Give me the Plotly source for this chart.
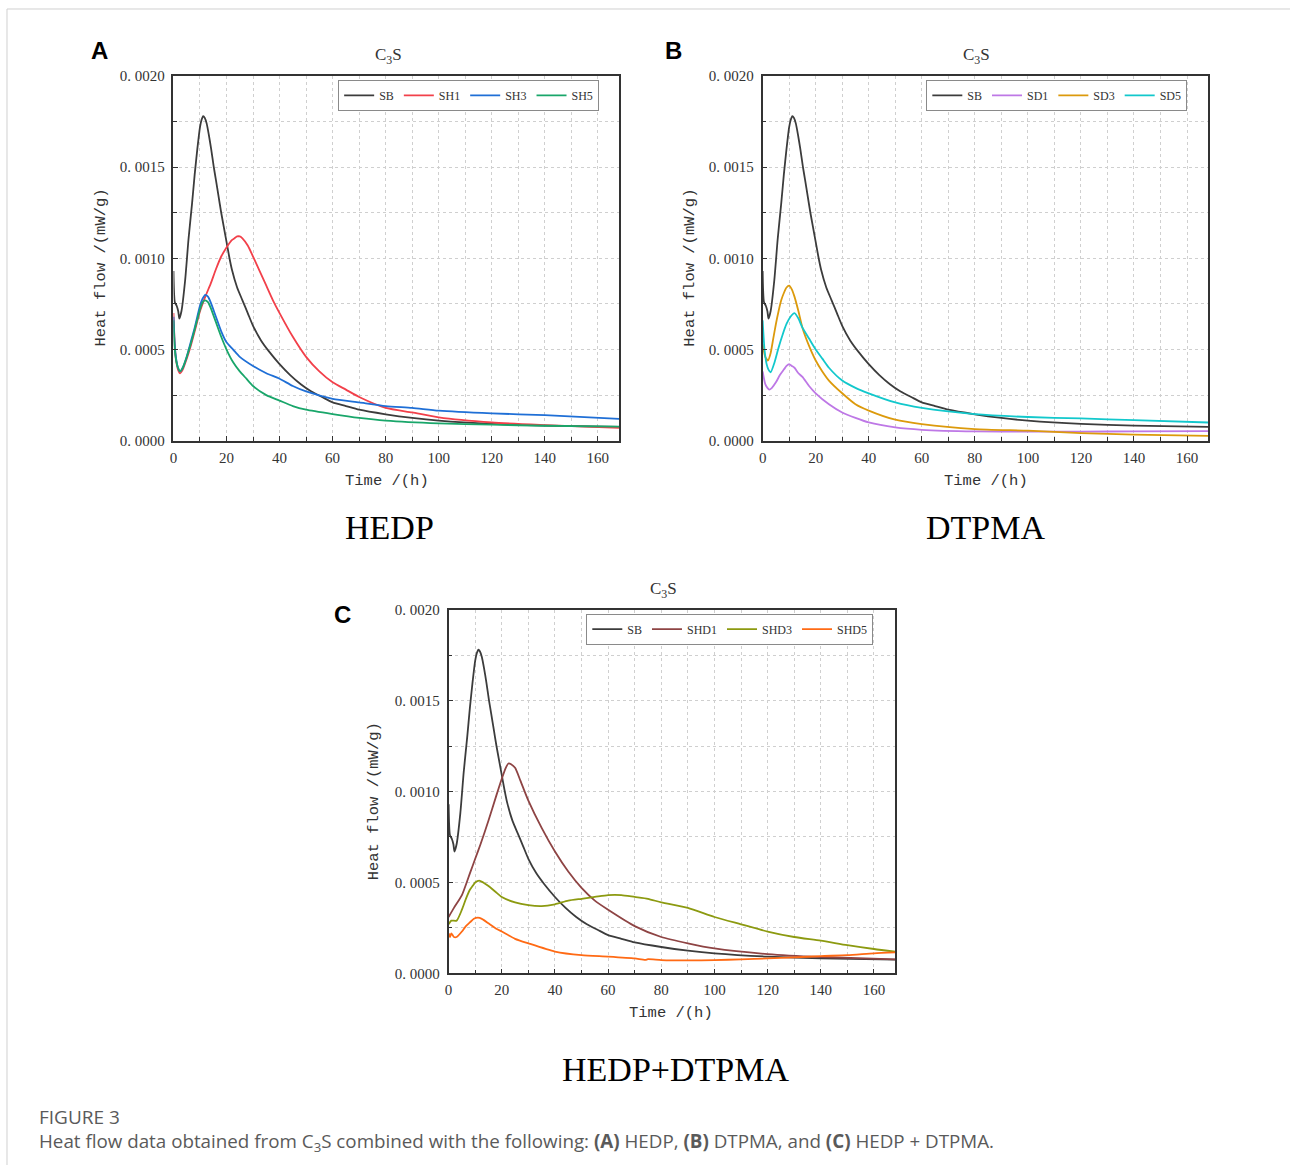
import plotly.graph_objects as go

W, H = 1290, 1173
# Measured mapping between figure pixels and the photographed page:
# page_y ~= 7 + 0.987 * fig_y, page_x ~= fig_x + 1.  Positions below are page pixels.
Y0, YS, X0 = 7.0, 0.987, 1.0

# ---------------- data ----------------
sb_t = [0, 0.5, 1.2, 1.8, 2.2, 3, 4.4, 5.7, 7, 8, 9, 10, 10.6, 11.2, 11.8, 12.5, 13.3, 14.2, 15.2, 16, 17, 18,
        19, 20, 21, 22, 24, 26, 28, 30, 33, 36, 40, 44, 48, 52, 56, 60, 65, 70, 80, 90, 100, 120, 140, 168]
sb_v = [0.00093, 0.00076, 0.00074, 0.00071, 0.00067, 0.00071, 0.00088, 0.00111, 0.00130, 0.00146, 0.00160,
        0.00172, 0.00176, 0.00178, 0.00177, 0.00174, 0.00168, 0.00160, 0.00150, 0.00143, 0.00134, 0.00125,
        0.00117, 0.00109, 0.00101, 0.00094, 0.00084, 0.00077, 0.00070, 0.00063, 0.00055, 0.00049, 0.00042,
        0.00036, 0.00031, 0.00027, 0.00024, 0.00021, 0.00019, 0.00017, 0.000145, 0.000125, 0.00011,
        0.000092, 0.000083, 0.000076]

# Panel A (HEDP)
sh1_t = [0, 0.5, 1, 1.7, 2.5, 3.5, 5, 6.5, 8, 10, 12, 14, 16, 18, 20, 22, 23, 24, 25, 26, 28, 30, 32.5, 35, 37.5,
         40, 45, 50, 55, 60, 65, 70, 80, 90, 100, 120, 140, 168]
sh1_v = [0.00070, 0.00052, 0.00044, 0.00039, 0.00037, 0.00039, 0.00045, 0.00052, 0.00060, 0.00071, 0.00079,
         0.00086, 0.00094, 0.00101, 0.00106, 0.00110, 0.00111, 0.00112, 0.00112, 0.00111, 0.00107, 0.00101,
         0.00093, 0.00085, 0.00077, 0.00070, 0.00057, 0.00046, 0.00038, 0.00032, 0.00028, 0.00024, 0.00018,
         0.000155, 0.000128, 0.000100, 0.000086, 0.000070]
sh3_t = [0, 0.5, 1, 1.7, 2.5, 3.5, 5, 6.5, 8, 10, 11, 12, 13, 14, 16, 18, 20, 22.5, 25, 30, 35, 40, 45, 50, 60,
         70, 80, 90, 100, 120, 140, 168]
sh3_v = [0.00068, 0.00052, 0.00045, 0.00040, 0.00038, 0.00040, 0.00046, 0.00054, 0.00062, 0.00074, 0.00078,
         0.00080, 0.00079, 0.00076, 0.00068, 0.00060, 0.00054, 0.00050, 0.00046, 0.00041, 0.00037, 0.00034,
         0.00030, 0.00027, 0.00023, 0.00021, 0.00019, 0.00018, 0.000165, 0.00015, 0.00014, 0.00012]
sh5_t = [0, 0.5, 1, 1.7, 2.5, 3.5, 5, 6.5, 8, 10, 11, 12, 13, 14, 16, 18, 20, 22.5, 25, 27.5, 30, 35, 40, 45,
         50, 60, 70, 80, 100, 120, 140, 168]
sh5_v = [0.00066, 0.00050, 0.00044, 0.00040, 0.00038, 0.00040, 0.00046, 0.00053, 0.00061, 0.00072, 0.00076,
         0.00077, 0.00076, 0.00073, 0.00065, 0.00057, 0.00050, 0.00043, 0.00038, 0.00034, 0.00030, 0.00025,
         0.00022, 0.00019, 0.00017, 0.000146, 0.000125, 0.00011, 0.000095, 0.000088, 0.000082, 0.000077]

# Panel B (DTPMA)
sd1_t = [0, 1, 1.8, 2.5, 3.5, 5, 6.5, 8, 9, 10, 11, 12, 13.5, 15, 17.5, 20, 25, 30, 35, 40, 50, 60, 80, 100,
         120, 140, 168]
sd1_v = [0.00038, 0.00031, 0.00029, 0.00028, 0.00029, 0.00032, 0.00036, 0.00039, 0.00041, 0.00042, 0.00041,
         0.00040, 0.00037, 0.00035, 0.00030, 0.00026, 0.00020, 0.000155, 0.000125, 0.00010, 0.000073,
         0.00006, 0.000051, 0.00005, 0.00005, 0.000051, 0.000053]
sd3_t = [0, 1, 2, 3, 4, 5, 6, 7, 8, 9, 10, 11, 12, 13.5, 15, 17.5, 20, 22.5, 25, 30, 35, 40, 50, 60, 80, 100,
         120, 140, 168]
sd3_v = [0.00053, 0.00046, 0.00044, 0.00048, 0.00056, 0.00064, 0.00071, 0.00077, 0.00081, 0.00084, 0.00085,
         0.00083, 0.00079, 0.00071, 0.00062, 0.00052, 0.00044, 0.00038, 0.00033, 0.00026, 0.00020, 0.000165,
         0.000115, 0.000091, 0.000064, 0.000055, 0.000042, 0.000033, 0.000027]
sd5_t = [0, 0.7, 1.5, 2.2, 3, 4.5, 6, 7.5, 9, 10.5, 12, 13.5, 15, 17.5, 20, 22.5, 25, 30, 35, 40, 50, 60, 80,
         100, 120, 140, 168]
sd5_v = [0.00066, 0.00050, 0.00042, 0.00039, 0.000375, 0.00043, 0.00051, 0.00058, 0.00064, 0.00068, 0.00070,
         0.00067, 0.00062, 0.00056, 0.00050, 0.00045, 0.00040, 0.00033, 0.00029, 0.00026, 0.00021, 0.00018,
         0.000146, 0.00013, 0.000122, 0.000113, 0.00010]

# Panel C (HEDP+DTPMA)
shd1_t = [0, 2, 5, 8, 10, 12, 15, 18, 20, 21.5, 22.5, 23.5, 25, 27, 30, 35, 40, 45, 50, 55, 60, 70, 80, 90,
          100, 120, 140, 168]
shd1_v = [0.00031, 0.00036, 0.00043, 0.00055, 0.00063, 0.00071, 0.00084, 0.00098, 0.00107, 0.00113, 0.001154,
          0.00115, 0.00113, 0.00106, 0.00095, 0.00080, 0.00067, 0.00056, 0.00047, 0.00040, 0.00035, 0.00026,
          0.00020, 0.000165, 0.000137, 0.000106, 0.00009, 0.000077]
shd3_t = [0, 1, 3, 5, 6.5, 8, 9, 10, 11.5, 13, 15, 17.5, 20, 25, 30, 35, 40, 45, 50, 55, 60, 65, 70, 75, 80,
          90, 100, 110, 120, 130, 140, 150, 160, 168]
shd3_v = [0.00027, 0.00029, 0.00029, 0.00035, 0.00041, 0.00046, 0.00048, 0.00050, 0.00051, 0.00050, 0.00048,
          0.00045, 0.00042, 0.00039, 0.000375, 0.00037, 0.00038, 0.00040, 0.00041, 0.00042, 0.00043, 0.00043,
          0.00042, 0.00041, 0.00039, 0.00036, 0.00031, 0.00027, 0.00023, 0.00020, 0.00018, 0.000155,
          0.000134, 0.00012]
shd5_t = [0, 0.5, 1, 2, 3, 5, 6.5, 8, 9.5, 11, 12.5, 15, 17.5, 20, 25, 30, 40, 50, 60, 70, 74, 75, 80, 90,
          100, 110, 120, 130, 140, 150, 160, 168]
shd5_v = [0.00022, 0.00020, 0.00022, 0.00020, 0.00020, 0.00023, 0.00026, 0.00028, 0.00030, 0.000306, 0.00030,
          0.000275, 0.00025, 0.00023, 0.00019, 0.000165, 0.00012, 0.00010, 0.000092, 0.000082, 0.000074,
          0.000078, 0.000073, 0.000071, 0.000073, 0.000077, 0.000082, 0.000088, 0.000095, 0.00010,
          0.00011, 0.000115]

x_ticks = [0, 20, 40, 60, 80, 100, 120, 140, 160]
y_ticks = [0, 0.0005, 0.0010, 0.0015, 0.0020]
y_tick_text = ["0. 0000", "0. 0005", "0. 0010", "0. 0015", "0. 0020"]

panels = [
    dict(series=[("SB", sb_t, sb_v, "#3c3c3c"), ("SH1", sh1_t, sh1_v, "#f2404a"),
                 ("SH3", sh3_t, sh3_v, "#1f6fd6"), ("SH5", sh5_t, sh5_v, "#19a66a")],
         px=(171, 618), py=(75, 440), leg=(598, 79), title=(387, 55), ytitle=(98, 267), xtitle=(385, 480)),
    dict(series=[("SB", sb_t, sb_v, "#3c3c3c"), ("SD1", sd1_t, sd1_v, "#be78e6"),
                 ("SD3", sd3_t, sd3_v, "#dc9a0c"), ("SD5", sd5_t, sd5_v, "#12c8cc")],
         px=(762, 1209), py=(75, 440), leg=(1188, 79), title=(977, 55), ytitle=(689, 267), xtitle=(986, 480)),
    dict(series=[("SB", sb_t, sb_v, "#3c3c3c"), ("SHD1", shd1_t, shd1_v, "#8e4444"),
                 ("SHD3", shd3_t, shd3_v, "#8c9a10"), ("SHD5", shd5_t, shd5_v, "#ff6a14")],
         px=(447, 895), py=(609, 973), leg=(873, 613), title=(663, 589), ytitle=(373, 801), xtitle=(670, 1013)),
]

SERIF = "Liberation Serif"
MONO = "Liberation Mono"
AX = "#333333"
GRID = "#cfcfcf"


def fx(p):
    return (p - X0) / W


def fy(p):
    return 1 - ((p - Y0) / YS) / H


fig = go.Figure()
layout = dict(width=W, height=H, margin=dict(l=0, r=0, t=0, b=0),
              paper_bgcolor="white", plot_bgcolor="white", showlegend=True)
annotations = []

for i, p in enumerate(panels):
    k = "" if i == 0 else str(i + 1)
    legname = "legend" + k
    for name, t, v, col in p["series"]:
        fig.add_trace(go.Scatter(x=t, y=v, mode="lines", name=name,
                                 line=dict(color=col, width=1.8, shape="spline", smoothing=0.6),
                                 xaxis="x" + k, yaxis="y" + k, legend=legname))
    layout["xaxis" + k] = dict(
        domain=[fx(p["px"][0]), fx(p["px"][1])], anchor="y" + k, range=[0, 168],
        tickvals=x_ticks, ticks="inside", ticklen=5, tickwidth=1.3, tickcolor=AX,
        showline=True, linecolor=AX, linewidth=1.6, mirror=True,
        showgrid=True, gridcolor=GRID, griddash="dot", gridwidth=1, zeroline=False,
        minor=dict(dtick=10, tick0=0, ticks="inside", ticklen=4, tickcolor=AX,
                   showgrid=True, gridcolor=GRID, griddash="dot", gridwidth=1),
        tickfont=dict(family=SERIF, size=15, color=AX), ticklabelstandoff=2)
    layout["yaxis" + k] = dict(
        domain=[fy(p["py"][1]), fy(p["py"][0])], anchor="x" + k, range=[0, 0.002],
        tickvals=y_ticks, ticktext=y_tick_text, ticks="inside", ticklen=5, tickwidth=1.3, tickcolor=AX,
        showline=True, linecolor=AX, linewidth=1.6, mirror=True,
        showgrid=True, gridcolor=GRID, griddash="dot", gridwidth=1, zeroline=False,
        minor=dict(dtick=0.00025, tick0=0, ticks="inside", ticklen=4, tickcolor=AX,
                   showgrid=True, gridcolor=GRID, griddash="dot", gridwidth=1),
        tickfont=dict(family=SERIF, size=15, color=AX), ticklabelstandoff=4)
    layout[legname] = dict(
        x=fx(p["leg"][0]), y=fy(p["leg"][1]), xanchor="right", yanchor="top", orientation="h",
        bordercolor="#8a8a8a", borderwidth=1, bgcolor="white",
        font=dict(family=SERIF, size=12, color=AX), itemwidth=30, tracegroupgap=0)

    annotations.append(dict(x=fx(p["title"][0]), y=fy(p["title"][1]), xref="paper", yref="paper",
                            text="C<sub>3</sub>S", showarrow=False, xanchor="center", yanchor="middle",
                            font=dict(family=SERIF, size=17, color=AX)))
    annotations.append(dict(x=fx(p["ytitle"][0]), y=fy(p["ytitle"][1]), xref="paper", yref="paper",
                            text="Heat flow /(mW/g)", textangle=-90, showarrow=False,
                            xanchor="center", yanchor="middle", font=dict(family=MONO, size=15.5, color=AX)))
    annotations.append(dict(x=fx(p["xtitle"][0]), y=fy(p["xtitle"][1]), xref="paper", yref="paper",
                            text="Time /(h)", showarrow=False, xanchor="center", yanchor="middle",
                            font=dict(family=MONO, size=15.5, color=AX)))

# panel letters
for letter, (lx, ly) in zip(["A", "B", "C"], [(97, 50), (673, 50), (341, 614)]):
    annotations.append(dict(x=fx(lx), y=fy(ly), xref="paper", yref="paper", text="<b>" + letter + "</b>",
                            showarrow=False, xanchor="center", yanchor="middle",
                            font=dict(family="Liberation Sans", size=24, color="black")))

# large labels under the panels
for text, (lx, ly) in zip(["HEDP", "DTPMA", "HEDP+DTPMA"], [(388, 527), (986, 527), (675, 1069)]):
    annotations.append(dict(x=fx(lx), y=fy(ly), xref="paper", yref="paper", text=text, showarrow=False,
                            xanchor="center", yanchor="middle", font=dict(family=SERIF, size=34, color="black")))

# caption
annotations.append(dict(x=fx(34), y=fy(1117), xref="paper", yref="paper", text="FIGURE 3", showarrow=False,
                        xanchor="left", yanchor="middle", font=dict(family="Open Sans", size=19, color="#5a5a5a")))
annotations.append(dict(x=fx(34), y=fy(1142), xref="paper", yref="paper",
                        text="Heat flow data obtained from C<sub>3</sub>S combined with the following: "
                             "<b>(A)</b> HEDP, <b>(B)</b> DTPMA, and <b>(C)</b> HEDP + DTPMA.",
                        showarrow=False, xanchor="left", yanchor="middle",
                        font=dict(family="Open Sans", size=18.8, color="#5a5a5a")))

layout["annotations"] = annotations
layout["shapes"] = [
    dict(type="line", xref="paper", yref="paper", x0=fx(4), x1=1, y0=fy(8), y1=fy(8),
         line=dict(color="#d0d0d0", width=1)),
    dict(type="line", xref="paper", yref="paper", x0=fx(4), x1=fx(4), y0=fy(8), y1=0,
         line=dict(color="#d0d0d0", width=1)),
]

fig.update_layout(**layout)
fig.write_html("out.html")
